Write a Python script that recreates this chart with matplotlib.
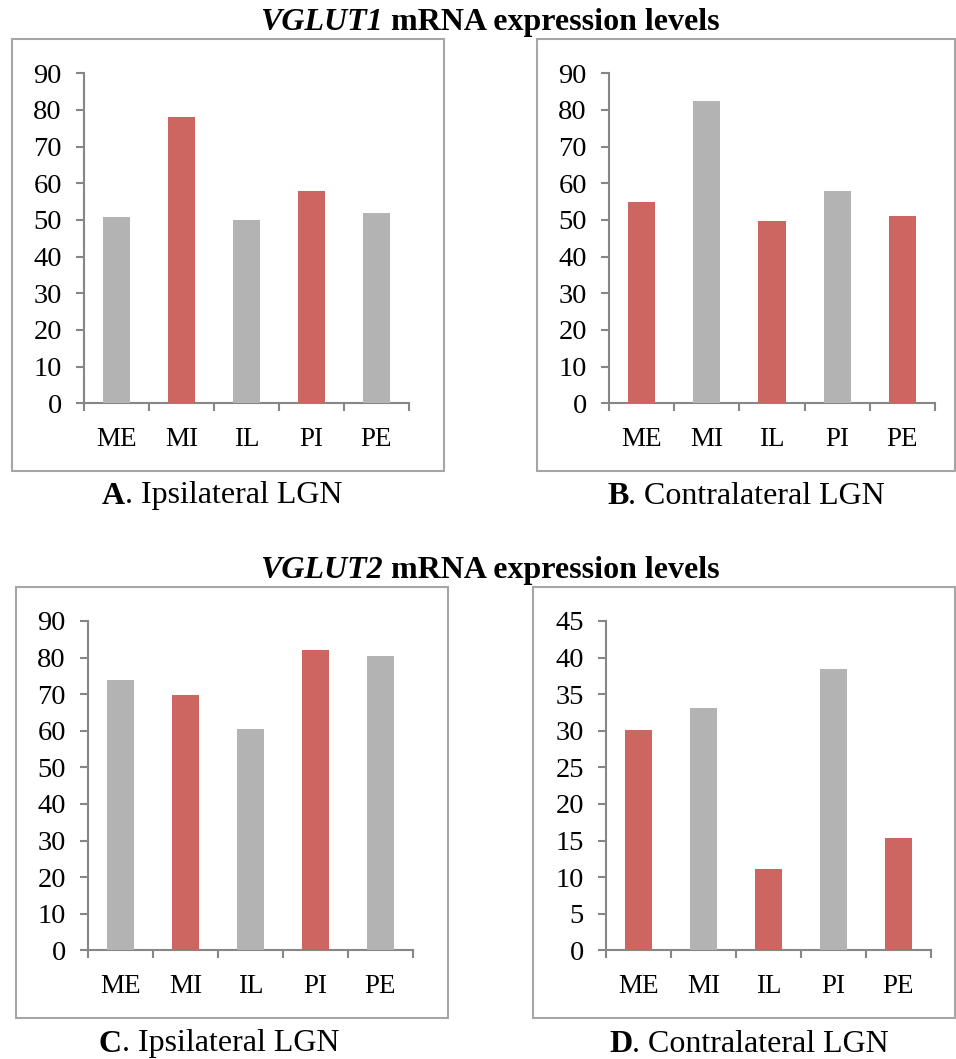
import matplotlib
matplotlib.use('Agg')
import matplotlib.pyplot as plt
from matplotlib.patches import Rectangle

plt.rcParams['font.family'] = ['Liberation Serif', 'DejaVu Serif']

regions = ['ME', 'MI', 'IL', 'PI', 'PE']
vglut1_ipsi = [50.8, 78, 49.9, 57.8, 51.8]
vglut1_contra = [54.9, 82.4, 49.7, 57.8, 51]
vglut2_ipsi = [74, 69.7, 60.4, 82.2, 80.3]
vglut2_contra = [30.1, 33.1, 11.1, 38.5, 15.3]

red = '#CD6661'
gray = '#B3B3B3'
colors_ipsi = [gray, red, gray, red, gray]
colors_contra = [red, gray, red, gray, red]

captions = [('A', '. Ipsilateral LGN'), ('B', '. Contralateral LGN'),
            ('C', '. Ipsilateral LGN'), ('D', '. Contralateral LGN')]

W, H = 956, 1059
fig = plt.figure(figsize=(W / 100, H / 100), dpi=100)

# panels: data, colours, ymax, ystep, axes box (px), frame box (px), caption centre (px)
panels = [
    (vglut1_ipsi, colors_ipsi, 90, 10, (84, 73.3, 409, 403.3), (12, 39, 444, 471), (222, 496)),
    (vglut1_contra, colors_contra, 90, 10, (609, 73.3, 935, 403.3), (537, 39, 955, 471), (746, 496)),
    (vglut2_ipsi, colors_ipsi, 90, 10, (88, 621, 413, 950.3), (15.7, 586.7, 447.7, 1018.3), (218, 1044)),
    (vglut2_contra, colors_contra, 45, 5, (606, 621, 931, 950.3), (532.7, 586.7, 955, 1018.3), (749, 1044)),
]

axis_col = '#868686'
for (vals, cols, ymax, ystep, box, frame, cap), (letter, rest) in zip(panels, captions):
    x0, y0, x1, y1 = box
    ax = fig.add_axes([x0 / W, 1 - y1 / H, (x1 - x0) / W, (y1 - y0) / H])
    xs = range(len(regions))
    ax.bar(xs, vals, width=0.42, color=cols, zorder=3)
    ax.set_xlim(-0.5, 4.5)
    ax.set_ylim(0, ymax)
    ax.set_yticks(range(0, ymax + 1, ystep))
    ax.set_xticks(list(xs))
    ax.set_xticklabels(regions)
    ax.set_xticks([i - 0.5 for i in range(6)], minor=True)
    for s in ['top', 'right']:
        ax.spines[s].set_visible(False)
    for s in ['left', 'bottom']:
        ax.spines[s].set_color(axis_col)
        ax.spines[s].set_linewidth(1.5)
    ax.tick_params(axis='y', length=6, width=1.5, color=axis_col, labelsize=20.5, pad=10)
    ax.tick_params(axis='x', which='major', length=0, labelsize=19.5, pad=17)
    ax.tick_params(axis='x', which='minor', length=6, width=1.5, color=axis_col)
    ax.patch.set_alpha(0)

    fx0, fy0, fx1, fy1 = frame
    fig.patches.append(Rectangle((fx0 / W, 1 - fy1 / H), (fx1 - fx0) / W, (fy1 - fy0) / H,
                                 transform=fig.transFigure, fill=False,
                                 edgecolor='#A6A6A6', linewidth=1.5))

    cx, cy = cap
    t = fig.text(cx / W, 1 - cy / H, letter + rest, ha='center', va='center', fontsize=23, alpha=0)
    fig.canvas.draw()
    bb = t.get_window_extent()
    lt = fig.text(bb.x0 / W, 1 - cy / H, letter, ha='left', va='center', fontsize=23, fontweight='bold')
    lbb = lt.get_window_extent()
    fig.text(lbb.x1 / W, 1 - cy / H, rest, ha='left', va='center', fontsize=23)
    t.remove()

for gene, ty in [('VGLUT1', 22.5), ('VGLUT2', 570.5)]:
    fig.text(383 / W, 1 - ty / H, gene, ha='right', va='center', fontsize=23,
             fontweight='bold', fontstyle='italic')
    fig.text(383 / W, 1 - ty / H, ' mRNA expression levels', ha='left', va='center',
             fontsize=23, fontweight='bold')

fig.savefig('out.png', dpi=100, facecolor='white')
